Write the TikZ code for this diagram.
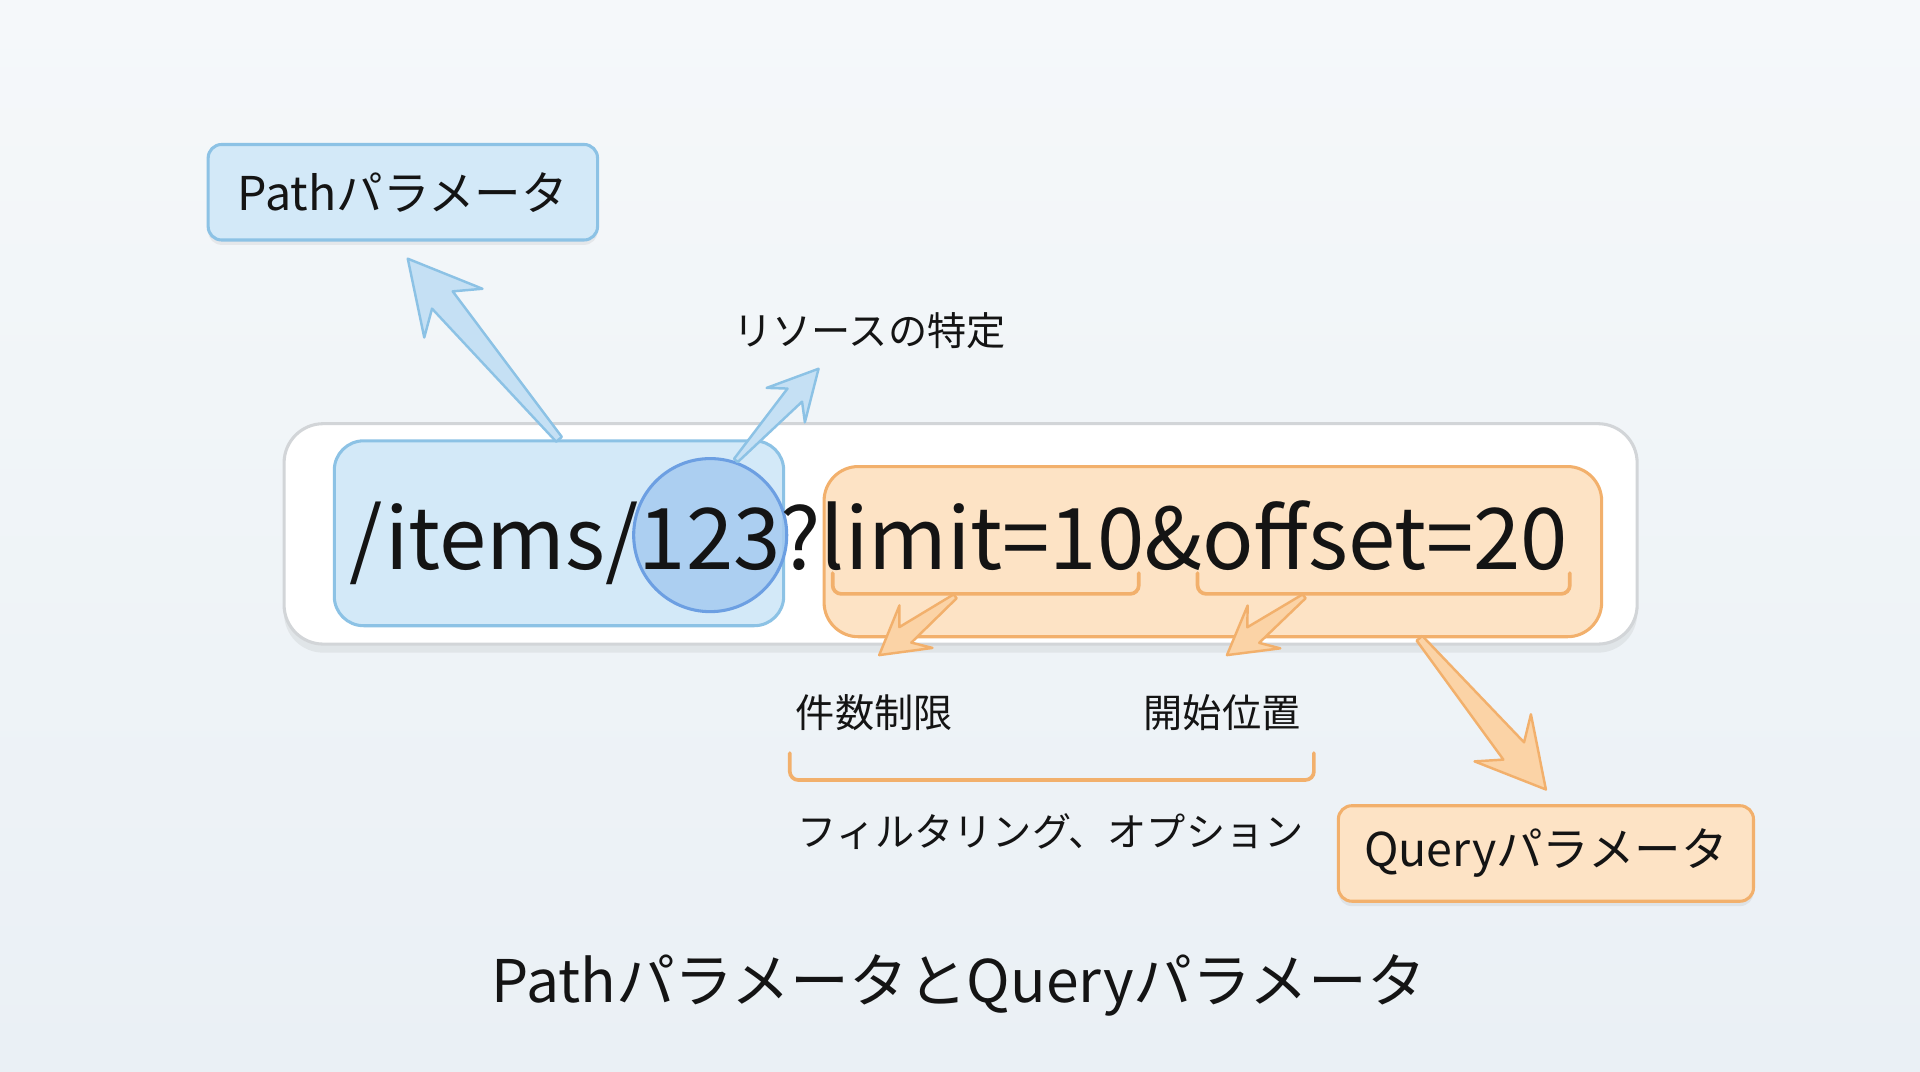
\documentclass[tikz,border=0pt]{standalone}
\usepackage{fontspec}
\setmainfont{Noto Sans CJK JP}
\usetikzlibrary{calc,shadows}
\definecolor{bgtop}{HTML}{F5F8FA}
\definecolor{bgbot}{HTML}{EAF0F5}
\definecolor{bluefill}{HTML}{D3E9F8}
\definecolor{blueline}{HTML}{8CC2E5}
\definecolor{circfill}{HTML}{A6CBF0}
\definecolor{circline}{HTML}{6C9FE2}
\definecolor{orfill}{HTML}{FDE3C5}
\definecolor{orline}{HTML}{F2B06C}
\definecolor{orarrow}{HTML}{FBD3A6}
\definecolor{bluearrow}{HTML}{C5E0F4}
\definecolor{grayline}{HTML}{D2D5D8}
\definecolor{txt}{HTML}{141414}
\newcommand\fatarrow[8]{%
  \path (#2); \pgfgetlastxy{\fax}{\fay}
  \path (#3); \pgfgetlastxy{\fbx}{\fby}
  \pgfmathsetmacro\faang{atan2(\fby-\fay,\fbx-\fax)}
  \pgfmathsetmacro\falen{veclen(\fbx-\fax,\fby-\fay)}
  \begin{scope}[shift={(\fax,\fay)},rotate=\faang]
    \path[#1] (0,-#4) -- (\falen-#7+#8,-#5) -- (\falen-#7,-#6) -- (\falen,0)
      -- (\falen-#7,#6) -- (\falen-#7+#8,#5) -- (0,#4) -- cycle;
  \end{scope}}
\tikzset{
  lbl/.style={text=txt, font=\fontsize{32}{36}\selectfont, inner sep=0pt},
  tagbox/.style={rounded corners=11pt, line width=2.5pt, text=txt,
    font=\fontsize{38}{42}\selectfont, inner sep=0pt,
    drop shadow={opacity=0.12, shadow xshift=0pt, shadow yshift=-4pt}},
  bluetag/.style={tagbox, fill=bluefill, draw=blueline},
  ortag/.style={tagbox, fill=orfill, draw=orline},
  brk/.style={draw=orline, line width=3pt, rounded corners=7pt, line cap=round},
  oarr/.style={fill=orarrow, draw=orline, line width=2pt, line join=round},
  barr/.style={fill=bluearrow, draw=blueline, line width=2pt, line join=round},
}
\begin{document}
\begin{tikzpicture}[x=1pt,y=-1pt]
\useasboundingbox (0,0) rectangle (1568,875);
\shade[top color=bgtop, bottom color=bgbot] (0,0) rectangle (1568,875);

% URL panel
\node[draw=grayline, fill=white, line width=2.5pt, rounded corners=32pt,
  minimum width=1105pt, minimum height=180pt,
  drop shadow={opacity=0.12, shadow xshift=0pt, shadow yshift=-7pt}] (urlbg) at (784.5,436) {};
\node[fill=bluefill, draw=blueline, line width=2.5pt, rounded corners=24pt,
  minimum width=367pt, minimum height=151pt] (pathbox) at (456.5,435.5) {};
\node[fill=orfill, draw=orline, line width=2.5pt, rounded corners=28pt,
  minimum width=635pt, minimum height=139pt] (qbox) at (990.5,450.5) {};
\node[circle, fill=circfill, fill opacity=0.85, draw=circline, line width=2.5pt,
  minimum size=125pt] (idcirc) at (580,437) {};

% small brackets
\draw[brk] (680,468) -- (680,485) -- (930,485) -- (930,468);
\draw[brk] (978,468) -- (978,485) -- (1282,485) -- (1282,468);

\node[anchor=base, text=txt, font=\fontsize{69.5}{74}\selectfont, inner sep=0pt] (url) at (783,465) {/items/123?limit=10\&offset=20};

% labels
\node[bluetag, minimum width=318pt, minimum height=78pt] (pathlbl) at (329,157) {Pathパラメータ};
\node[ortag, minimum width=339pt, minimum height=78pt] (querylbl) at (1262.5,697) {Queryパラメータ};
\node[lbl] (res) at (710,270) {リソースの特定};
\node[lbl] (lim) at (714,582) {件数制限};
\node[lbl] (off) at (998,582) {開始位置};
\node[lbl] (filt) at (858,679) {フィルタリング、オプション};
\node[text=txt, font=\fontsize{48}{52}\selectfont, inner sep=0pt] (title) at (783,805) {PathパラメータとQueryパラメータ};

% big bracket
\draw[brk] (645,615) -- (645,637) -- (1073,637) -- (1073,615);

% arrow anchor coordinates
\coordinate (pa0) at (pathbox.north);
\coordinate (pa1) at ($(pathlbl.south)+(4,14)$);
\coordinate (ra0) at ($(idcirc.center)+(21,-61)$);
\coordinate (ra1) at ($(res.south west)+(70,16)$);
\coordinate (la0) at (780,487);
\coordinate (la1) at ($(lim.north)+(4,-32)$);
\coordinate (oa0) at (1065,487);
\coordinate (oa1) at ($(off.north)+(4,-32)$);
\coordinate (qa0) at ($(qbox.south east)+(-150,0)$);
\coordinate (qa1) at ($(querylbl.north)+(0,-12)$);

\fatarrow{barr}{pa0}{pa1}{3}{11}{31}{58}{14}
\fatarrow{barr}{ra0}{ra1}{2}{8}{21}{40}{11}
\fatarrow{oarr}{la0}{la1}{2}{8}{22}{38}{11}
\fatarrow{oarr}{oa0}{oa1}{2}{8}{22}{38}{11}
\fatarrow{oarr}{qa0}{qa1}{3}{11}{30}{55}{14}
\end{tikzpicture}
\end{document}
